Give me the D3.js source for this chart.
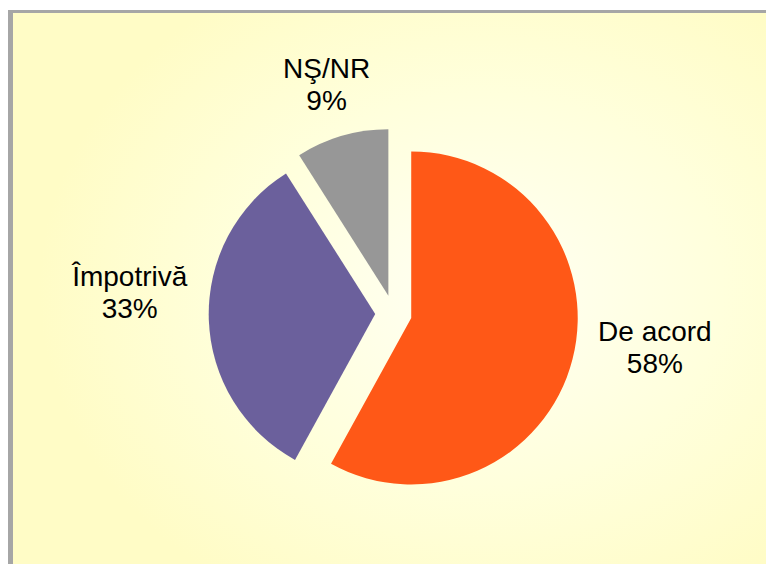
<!DOCTYPE html>
<html>
<head>
<meta charset="utf-8">
<script src="https://cdn.jsdelivr.net/npm/d3@7"></script>
<style>
  html, body { margin: 0; padding: 0; background: #ffffff; }
  svg { display: block; }
  text { font-family: "Liberation Sans", Arial, sans-serif; }
</style>
</head>
<body>
<svg id="chart" width="766" height="564"></svg>
<script>
// ---- data ----
const categories = ["De acord", "Împotrivă", "NŞ/NR"];
const values = [58, 33, 9];
const valueLabels = ["58%", "33%", "9%"];
const colors = ["#FF5817", "#6B609C", "#979797"];

// ---- layout ----
const W = 766, H = 564;
const cx = 393.5, cy = 313.4, radius = 166.5, explode = 18.3;
// label placement (polar, relative to pie centre): angle in degrees clockwise from 12 o'clock
const labelPolar = [
  { a: 99.5, r: 265 },
  { a: 272.4, r: 264 },
  { a: 343.0, r: 229 }
];
const lineGap = 32;
const fontSize = 28;

const svg = d3.select("#chart");
const defs = svg.append("defs");
const grad = defs.append("radialGradient")
  .attr("id", "bg")
  .attr("gradientUnits", "userSpaceOnUse")
  .attr("cx", 480).attr("cy", 290).attr("r", 420)
  .attr("gradientTransform", "translate(480,290) scale(1.05,0.85) translate(-480,-290)");
grad.append("stop").attr("offset", 0).attr("stop-color", "#FFFFF4");
grad.append("stop").attr("offset", 0.55).attr("stop-color", "#FFFFDC");
grad.append("stop").attr("offset", 1).attr("stop-color", "#FFFCC6");

svg.append("rect").attr("x", 0).attr("y", 0).attr("width", W).attr("height", H).attr("fill", "#ffffff");
svg.append("rect").attr("x", 8).attr("y", 10).attr("width", W - 8).attr("height", H - 10).attr("fill", "#A6A6A6");
svg.append("rect").attr("x", 13).attr("y", 13).attr("width", W - 13).attr("height", H - 13).attr("fill", "url(#bg)");

const pie = d3.pie().sort(null).value(d => d).startAngle(0).endAngle(2 * Math.PI);
const arcs = pie(values);
const arc = d3.arc().innerRadius(0).outerRadius(radius);

const g = svg.append("g").attr("transform", `translate(${cx},${cy})`);
g.selectAll("path.slice")
  .data(arcs)
  .join("path")
  .attr("class", "slice")
  .attr("fill", (d, i) => colors[i])
  .attr("transform", d => {
    const m = (d.startAngle + d.endAngle) / 2;
    return `translate(${explode * Math.sin(m)},${-explode * Math.cos(m)})`;
  })
  .attr("d", arc);

const labels = g.selectAll("g.lbl")
  .data(arcs)
  .join("g")
  .attr("class", "lbl")
  .attr("transform", (d, i) => {
    const p = labelPolar[i];
    const a = p.a * Math.PI / 180;
    return `translate(${p.r * Math.sin(a)},${-p.r * Math.cos(a)})`;
  });

labels.append("text")
  .attr("text-anchor", "middle")
  .attr("y", -lineGap / 2)
  .attr("font-size", fontSize)
  .attr("fill", "#000")
  .text((d, i) => categories[i]);
labels.append("text")
  .attr("text-anchor", "middle")
  .attr("y", lineGap / 2)
  .attr("font-size", fontSize)
  .attr("fill", "#000")
  .text((d, i) => valueLabels[i]);
</script>
</body>
</html>
